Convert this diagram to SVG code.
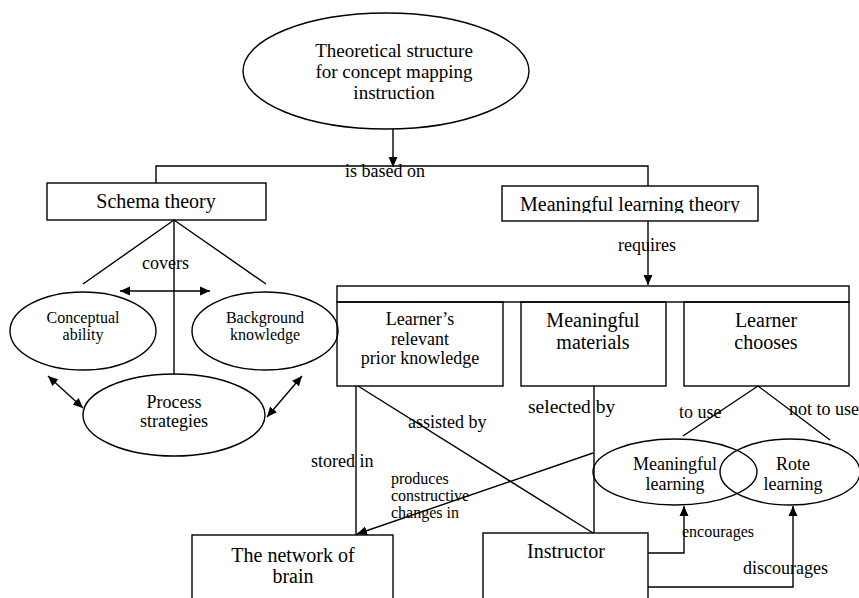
<svg xmlns="http://www.w3.org/2000/svg" width="859" height="598" viewBox="0 0 859 598">
  <style>
    text { font-family: "Liberation Serif", "Times New Roman", serif; fill: #000; }
    .shape { fill: none; stroke: #000; stroke-width: 1.4; }
    .link { fill: none; stroke: #000; stroke-width: 1.4; }
    .arrow { marker-end: url(#head); }
    .both { marker-start: url(#head); marker-end: url(#head); }
    .c { text-anchor: middle; }
    .f20 { font-size: 20px; }
    .f19 { font-size: 19px; }
    .f18 { font-size: 18px; }
    .f16 { font-size: 16px; }
    .lbl { font-size: 18px; }
  </style>
  <defs>
    <marker id="head" viewBox="0 0 10 10" refX="10" refY="5" markerWidth="10" markerHeight="10" markerUnits="userSpaceOnUse" orient="auto-start-reverse">
      <path d="M0,0.5 L10,5 L0,9.5 z" fill="#000"/>
    </marker>
    <clipPath id="mlt-clip">
      <rect x="500" y="186" width="258" height="27"/>
    </clipPath>
  </defs>

  <rect width="859" height="598" fill="#fff"/>

  <!-- connectors -->
  <g id="connectors">
    <path class="link arrow" d="M393,129 V167"/>
    <path class="link" d="M156,183 V166 H648 V186"/>
    <path class="link arrow" d="M648,221 V285"/>
    <!-- schema theory branches -->
    <path class="link" d="M83,284 L174,220 L266,284"/>
    <path class="link" d="M174,220 V374"/>
    <path class="link both" d="M120,291 H210"/>
    <path class="link both" d="M48,376 L83,408"/>
    <path class="link both" d="M302,376 L267,417"/>
    <!-- lower links -->
    <path class="link" d="M356,386 V535"/>
    <path class="link" d="M358,386 L593,533"/>
    <path class="link" d="M594,386 V533"/>
    <path class="link arrow" d="M593,453 L357,534"/>
    <path class="link" d="M683,436 L758,386 L830,440"/>
    <path class="link arrow" d="M648,553 H684 V506"/>
    <path class="link arrow" d="M648,587 H793 V506"/>
  </g>

  <!-- connector labels -->
  <g id="labels">
    <text class="lbl" x="345" y="177">is based on</text>
    <text class="lbl" x="618" y="251">requires</text>
    <text class="lbl" x="142" y="269">covers</text>
    <text class="lbl" x="408" y="428">assisted by</text>
    <text x="528" y="413" font-size="19.5px">selected by</text>
    <text class="lbl" x="679" y="418">to use</text>
    <text class="lbl" x="789" y="415">not to use</text>
    <text class="lbl" x="311" y="467">stored in</text>
    <text class="f16" x="391" y="484">produces</text>
    <text class="f16" x="391" y="501">constructive</text>
    <text class="f16" x="391" y="518">changes in</text>
    <text class="f16" x="682" y="537">encourages</text>
    <text class="lbl" x="743" y="574">discourages</text>
  </g>

  <g id="theoretical-structure">
    <ellipse class="shape" cx="386" cy="71" rx="143" ry="58"/>
    <text class="c f19" x="394" y="57">Theoretical structure</text>
    <text class="c f19" x="394" y="78">for concept mapping</text>
    <text class="c f19" x="394" y="99">instruction</text>
  </g>

  <g id="schema-theory">
    <rect class="shape" x="47" y="183" width="219" height="37"/>
    <text class="c f20" x="156" y="208">Schema theory</text>
  </g>

  <g id="meaningful-learning-theory">
    <rect class="shape" x="502" y="186" width="256" height="35"/>
    <text class="c f20" x="630" y="211" clip-path="url(#mlt-clip)">Meaningful learning theory</text>
  </g>

  <g id="conceptual-ability">
    <ellipse class="shape" cx="83" cy="331" rx="73" ry="39"/>
    <text class="c f16" x="83" y="323">Conceptual</text>
    <text class="c f16" x="83" y="340">ability</text>
  </g>

  <g id="background-knowledge">
    <ellipse class="shape" cx="265" cy="331" rx="73" ry="39"/>
    <text class="c f16" x="265" y="323">Background</text>
    <text class="c f16" x="265" y="340">knowledge</text>
  </g>

  <g id="process-strategies">
    <ellipse class="shape" cx="174" cy="415" rx="91" ry="41"/>
    <text class="c f18" x="174" y="408">Process</text>
    <text class="c f18" x="174" y="427">strategies</text>
  </g>

  <g id="requirements">
    <rect class="shape" x="337" y="286" width="512" height="16"/>
  </g>

  <g id="prior-knowledge">
    <rect class="shape" x="337" y="302" width="166" height="84"/>
    <text class="c f18" x="420" y="325">Learner’s</text>
    <text class="c f18" x="420" y="345">relevant</text>
    <text class="c f18" x="420" y="364">prior knowledge</text>
  </g>

  <g id="meaningful-materials">
    <rect class="shape" x="521" y="302" width="145" height="84"/>
    <text class="c f20" x="593" y="327">Meaningful</text>
    <text class="c f20" x="593" y="349">materials</text>
  </g>

  <g id="learner-chooses">
    <rect class="shape" x="684" y="302" width="165" height="84"/>
    <text class="c f20" x="766" y="327">Learner</text>
    <text class="c f20" x="766" y="349">chooses</text>
  </g>

  <g id="meaningful-learning">
    <ellipse class="shape" cx="675" cy="472" rx="82" ry="33"/>
    <text class="c f18" x="675" y="470">Meaningful</text>
    <text class="c f18" x="675" y="490">learning</text>
  </g>

  <g id="rote-learning">
    <ellipse class="shape" cx="790" cy="472" rx="70" ry="33"/>
    <text class="c f18" x="793" y="470">Rote</text>
    <text class="c f18" x="793" y="490">learning</text>
  </g>

  <g id="network-of-brain">
    <rect class="shape" x="192" y="535" width="201" height="80"/>
    <text class="c f20" x="293" y="562">The network of</text>
    <text class="c f20" x="293" y="583">brain</text>
  </g>

  <g id="instructor">
    <rect class="shape" x="483" y="533" width="165" height="80"/>
    <text class="c f20" x="566" y="558">Instructor</text>
  </g>
</svg>
